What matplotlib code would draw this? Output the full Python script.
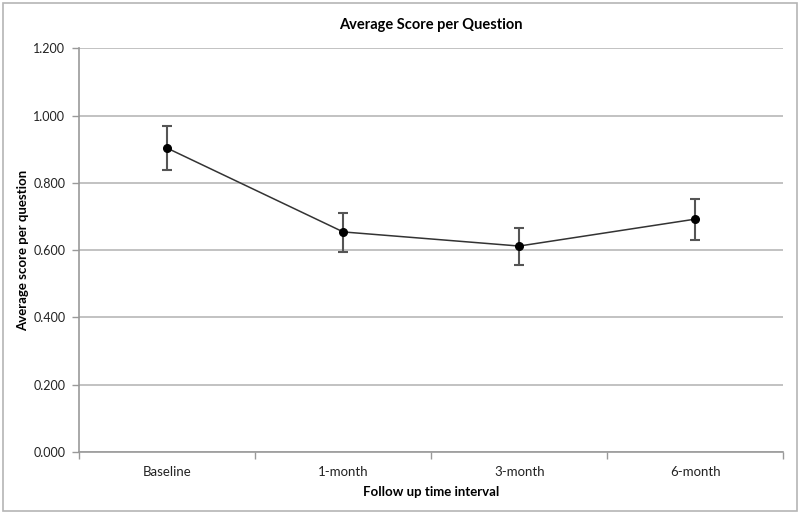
import matplotlib
matplotlib.use('Agg')
import matplotlib.pyplot as plt
from matplotlib.patches import Rectangle

plt.rcParams['font.family'] = ['Lato', 'DejaVu Sans']

categories = ['Baseline', '1-month', '3-month', '6-month']
scores = [0.903, 0.654, 0.612, 0.692]
err_low = [0.839, 0.593, 0.555, 0.631]
err_high = [0.970, 0.711, 0.667, 0.753]
yticks = [0.0, 0.2, 0.4, 0.6, 0.8, 1.0, 1.2]

fig = plt.figure(figsize=(8, 5.13), dpi=100)
ax = fig.add_axes([0.099, 0.119, 0.88, 0.787])

# outer chart frame
fig.patches.append(Rectangle((0.004, 0.004), 0.992, 0.99, transform=fig.transFigure,
                             fill=False, edgecolor='#b5b5b5', linewidth=1.2))

x = list(range(len(categories)))
yerr = [[s - lo for s, lo in zip(scores, err_low)],
        [hi - s for s, hi in zip(scores, err_high)]]
ax.errorbar(x, scores, yerr=yerr, fmt='none', ecolor='#555555', elinewidth=1.5,
            capsize=3.5, capthick=1.5, zorder=3)
ax.plot(x, scores, color='#333333', linewidth=1.1, marker='o', markersize=5.5,
        markerfacecolor='black', markeredgecolor='black', zorder=4)

ax.set_xlim(-0.5, len(categories) - 0.5)
ax.set_ylim(0, 1.2)
ax.set_yticks(yticks)
ax.set_yticklabels(['%.3f' % v for v in yticks], fontsize=9, color='#222222')
ax.set_xticks(x)
ax.set_xticklabels(categories, fontsize=9.5, color='#222222')
ax.set_xticks([i + 0.5 for i in range(-1, len(categories))], minor=True)
ax.tick_params(axis='x', which='major', length=0, pad=10)
ax.tick_params(axis='x', which='minor', length=5, color='#999999', width=1)
ax.tick_params(axis='y', length=5, color='#999999', width=1, pad=5)

ax.grid(axis='y', color='#b8b8b8', linewidth=1.2)
ax.set_axisbelow(True)
for side in ['top', 'right']:
    ax.spines[side].set_visible(False)
for side in ['left', 'bottom']:
    ax.spines[side].set_color('#999999')
    ax.spines[side].set_linewidth(1.2)

ax.set_title('Average Score per Question', fontsize=10.5, fontweight='bold', pad=14)
ax.set_xlabel('Follow up time interval', fontsize=9.5, fontweight='bold', labelpad=6)
ax.set_ylabel('Average score per question', fontsize=9.5, fontweight='bold',
              va='center')
ax.yaxis.set_label_coords(-0.08, 0.5)

fig.savefig('out.png', dpi=100)
